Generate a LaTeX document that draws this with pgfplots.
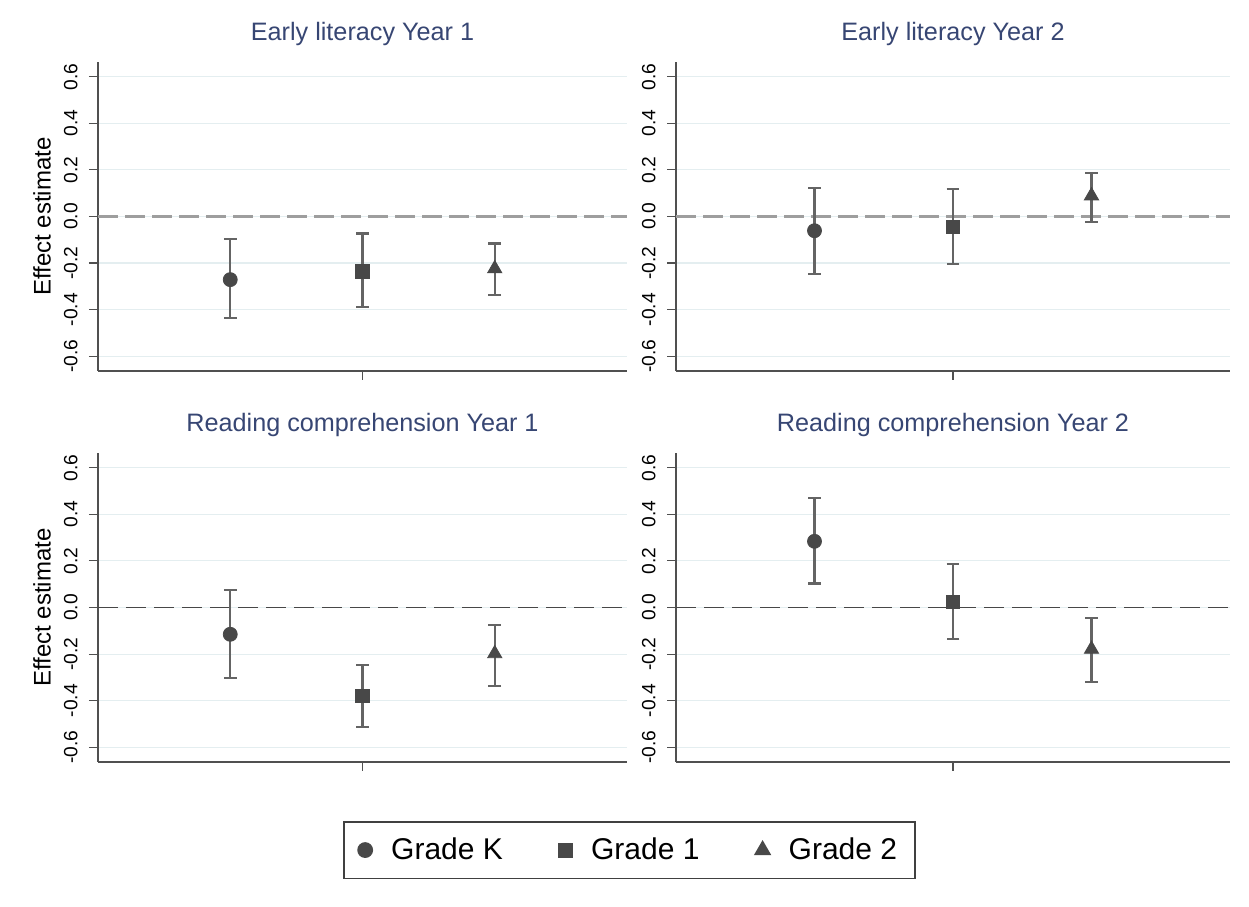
\documentclass[border=0pt]{standalone}
\usepackage{fontspec}
\setmainfont{Liberation Sans}
\usepackage{pgfplots}
\pgfplotsset{compat=1.18}
\definecolor{ttl}{RGB}{55,70,115}
\definecolor{mk}{RGB}{72,72,72}
\definecolor{eb}{RGB}{100,100,100}
\definecolor{grd}{RGB}{228,238,240}
\definecolor{axc}{RGB}{80,80,80}
\pgfplotsset{
  panel/.style={
    scale only axis,
    xmin=0, xmax=4, ymin=-0.663, ymax=0.663,
    axis x line*=bottom, axis y line*=left,
    axis line style={-, draw=axc, line width=0.7pt},
    xtick={2}, xticklabels={},
    ytick={-0.6,-0.4,-0.2,0,0.2,0.4,0.6},
    tick align=outside, major tick length=4.5pt,
    tick style={draw=axc, line width=0.6pt},
    ymajorgrids, grid style={draw=grd, line width=0.6pt},
    /pgf/number format/assume math mode=true,
    /pgf/number format/.cd, fixed, fixed zerofill, precision=1, /pgfplots/.cd,
    yticklabel style={rotate=90, anchor=south, font=\fontsize{9.6}{11}\selectfont, inner sep=5.5pt},
    title style={at={(0.5,1)}, anchor=base, yshift=4.5pt, color=ttl, font=\fontsize{12.6}{15}\selectfont},
    ylabel style={at={(axis description cs:-0.106,0.5)}, anchor=center, font=\fontsize{12}{14}\selectfont},
    error bars/y dir=both, error bars/y explicit,
    error bars/error mark=|,
    error bars/error bar style={draw=eb, line width=1.05pt, solid},
    error bars/error mark options={draw=eb, line width=1.05pt, mark size=3.2pt, solid},
  },
  gk/.style={only marks, mark=*, mark size=3.5pt, color=mk, mark options={fill=mk, draw=mk}},
  g1/.style={only marks, mark=square*, mark size=3.3pt, color=mk, mark options={fill=mk, draw=mk}},
  g2/.style={only marks, mark=triangle*, mark size=4.1pt, color=mk, mark options={fill=mk, draw=mk}},
  zlA/.style={forget plot, color=black!38, line width=1.5pt, dash pattern=on 10pt off 3.5pt},
  zlB/.style={forget plot, color=black!72, line width=0.75pt, dash pattern=on 10pt off 4pt},
}
\begin{document}
\begin{tikzpicture}
\useasboundingbox (0,0) rectangle (624.5pt,453pt);
% Top left
\begin{axis}[panel, at={(49pt,267.5pt)}, anchor=south west, width=264.5pt, height=154.5pt,
  title={Early literacy Year 1}, ylabel={Effect estimate}]
\addplot[zlA] coordinates {(0,0) (4,0)};
\addplot[gk] coordinates {(1,-0.271) += (0,0.174) -= (0,0.165)};
\addplot[g1] coordinates {(2,-0.236) += (0,0.163) -= (0,0.154)};
\addplot[g2] coordinates {(3,-0.224) += (0,0.108) -= (0,0.112)};
\end{axis}
% Top right
\begin{axis}[panel, at={(338pt,267.5pt)}, anchor=south west, width=277pt, height=154.5pt,
  title={Early literacy Year 2}]
\addplot[zlA] coordinates {(0,0) (4,0)};
\addplot[gk] coordinates {(1,-0.061) += (0,0.182) -= (0,0.185)};
\addplot[g1] coordinates {(2,-0.046) += (0,0.163) -= (0,0.158)};
\addplot[g2] coordinates {(3,0.089) += (0,0.097) -= (0,0.113)};
\end{axis}
% Bottom left
\begin{axis}[panel, at={(49pt,72pt)}, anchor=south west, width=264.5pt, height=154.5pt,
  title={Reading comprehension Year 1}, ylabel={Effect estimate},
  legend columns=3,
  legend style={at={(1.005,-0.285)}, anchor=center, draw=black!75, line width=0.9pt,
    font=\fontsize{15}{18}\selectfont, inner xsep=7pt, inner ysep=6pt,
    /tikz/every odd column/.append style={column sep=7.5pt},
    /tikz/every even column/.append style={column sep=26pt}}]
\addplot[zlB] coordinates {(0,0) (4,0)};
\addplot[gk] coordinates {(1,-0.115) += (0,0.190) -= (0,0.186)};
\addplot[g1] coordinates {(2,-0.380) += (0,0.134) -= (0,0.134)};
\addplot[g2] coordinates {(3,-0.198) += (0,0.124) -= (0,0.140)};
\legend{Grade K, Grade 1, Grade 2}
\end{axis}
% Bottom right
\begin{axis}[panel, at={(338pt,72pt)}, anchor=south west, width=277pt, height=154.5pt,
  title={Reading comprehension Year 2}]
\addplot[zlB] coordinates {(0,0) (4,0)};
\addplot[gk] coordinates {(1,0.284) += (0,0.184) -= (0,0.181)};
\addplot[g1] coordinates {(2,0.023) += (0,0.162) -= (0,0.160)};
\addplot[g2] coordinates {(3,-0.179) += (0,0.133) -= (0,0.141)};
\end{axis}
\end{tikzpicture}
\end{document}
